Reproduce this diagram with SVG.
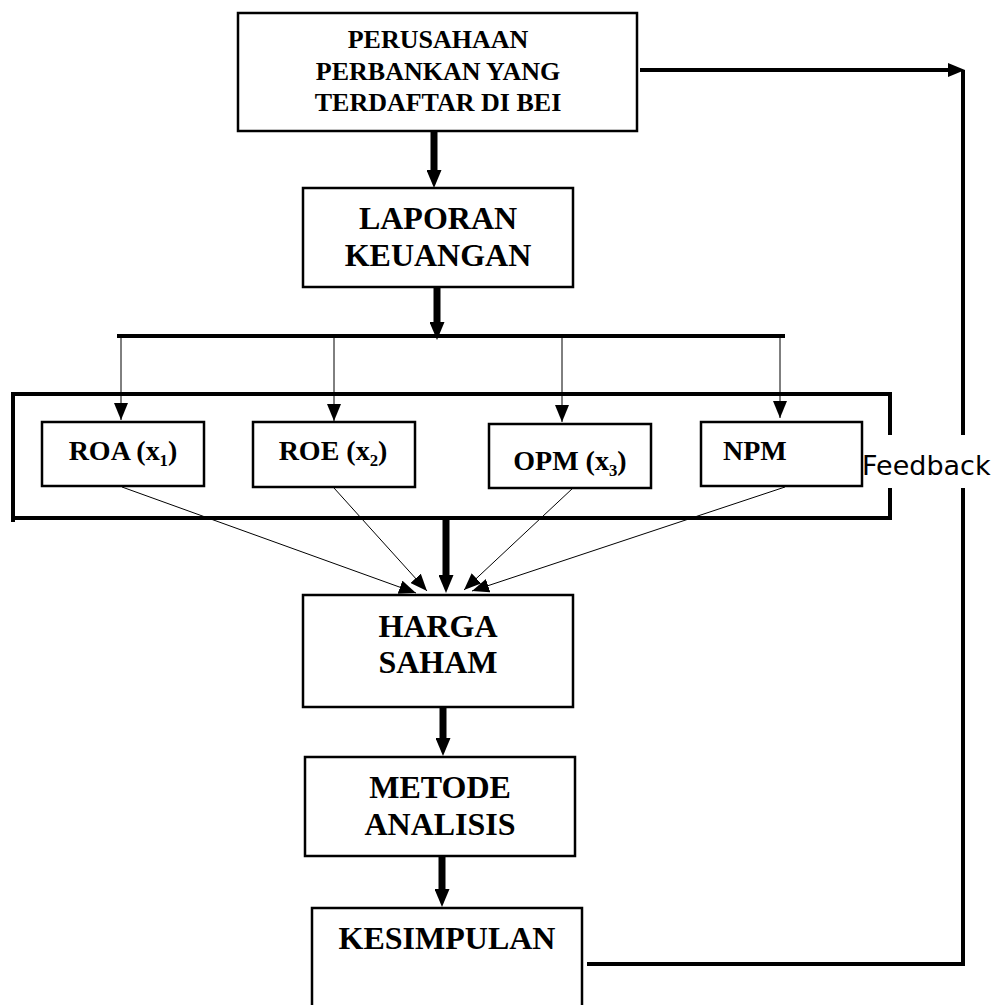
<svg xmlns="http://www.w3.org/2000/svg" width="1005" height="1005" viewBox="0 0 1005 1005">
<style>
.box{fill:#fff;stroke:#000;stroke-width:2.5}
.t{font-family:"Liberation Serif","Times New Roman",serif;font-weight:bold;fill:#000}
.thick{stroke:#000;stroke-width:7;fill:none}
.thin{stroke:#000;stroke-width:1;fill:none}
.frame{stroke:#000;stroke-width:4;fill:none}
</style>
<defs>
<marker id="ah" markerUnits="userSpaceOnUse" markerWidth="18" markerHeight="15" refX="0" refY="7.5" orient="auto">
<path d="M0,0 L18,7.5 L0,15 z" fill="#000"/>
</marker>
<marker id="at" markerUnits="userSpaceOnUse" markerWidth="17" markerHeight="14" refX="17" refY="7" orient="auto">
<path d="M0,0 L17,7 L0,14 z" fill="#000"/>
</marker>
<marker id="af" markerUnits="userSpaceOnUse" markerWidth="17" markerHeight="14" refX="0" refY="7" orient="auto">
<path d="M0,0 L17,7 L0,14 z" fill="#000"/>
</marker>
</defs>
<rect width="1005" height="1005" fill="#fff"/>

<g id="frame">
<path class="frame" d="M13,392 V522"/>
<path class="frame" d="M13,394 H890 V435"/>
<path class="frame" d="M13,518 H890 V488"/>
</g>

<g id="connectors">
<line class="thick" x1="434" y1="131" x2="434" y2="170" marker-end="url(#ah)"/>
<line class="thick" x1="437" y1="287" x2="437" y2="322" marker-end="url(#ah)"/>
<line x1="117" y1="336" x2="785" y2="336" stroke="#000" stroke-width="4"/>
<line class="thin" x1="121" y1="336" x2="121" y2="420" marker-end="url(#at)"/>
<line class="thin" x1="334" y1="336" x2="334" y2="421" marker-end="url(#at)"/>
<line class="thin" x1="562" y1="336" x2="562" y2="422" marker-end="url(#at)"/>
<line class="thin" x1="780" y1="336" x2="780" y2="418" marker-end="url(#at)"/>
<line class="thin" x1="122" y1="487" x2="416" y2="593" marker-end="url(#at)"/>
<line class="thin" x1="334" y1="488" x2="427" y2="591" marker-end="url(#at)"/>
<line class="thin" x1="573" y1="488" x2="464" y2="590" marker-end="url(#at)"/>
<line class="thin" x1="785" y1="487" x2="472" y2="591" marker-end="url(#at)"/>
<line class="thick" x1="446" y1="518" x2="446" y2="575" marker-end="url(#ah)"/>
<line class="thick" x1="443" y1="707" x2="443" y2="738" marker-end="url(#ah)"/>
<line class="thick" x1="442" y1="856" x2="442" y2="889" marker-end="url(#ah)"/>
<path d="M587,964 H963 V488" stroke="#000" stroke-width="4" fill="none"/>
<path d="M963,435 V70" stroke="#000" stroke-width="4" fill="none"/>
<line x1="640" y1="70" x2="948" y2="70" stroke="#000" stroke-width="4" marker-end="url(#af)"/>
<text x="862" y="475" font-family="DejaVu Sans, sans-serif" font-size="27" fill="#000">Feedback</text>
</g>

<g id="perusahaan">
<rect class="box" x="238" y="13" width="399" height="118"/>
<text class="t" font-size="26" text-anchor="middle" x="438" y="48">PERUSAHAAN</text>
<text class="t" font-size="26" text-anchor="middle" x="438" y="80">PERBANKAN YANG</text>
<text class="t" font-size="26" text-anchor="middle" x="438" y="111">TERDAFTAR DI BEI</text>
</g>

<g id="laporan">
<rect class="box" x="303" y="188" width="270" height="99"/>
<text class="t" font-size="32" text-anchor="middle" x="438" y="229">LAPORAN</text>
<text class="t" font-size="32" text-anchor="middle" x="438" y="266">KEUANGAN</text>
</g>

<g id="roa">
<rect class="box" x="42" y="422" width="162" height="64"/>
<text class="t" font-size="28" text-anchor="middle" x="123" y="460">ROA (x₁)</text>
</g>

<g id="roe">
<rect class="box" x="253" y="422" width="162" height="65"/>
<text class="t" font-size="28" text-anchor="middle" x="333" y="460">ROE (x₂)</text>
</g>

<g id="opm">
<rect class="box" x="489" y="424" width="162" height="64"/>
<text class="t" font-size="28" text-anchor="middle" x="570" y="470">OPM (x₃)</text>
</g>

<g id="npm">
<rect class="box" x="701" y="422" width="161" height="64"/>
<text class="t" font-size="28" x="723" y="460">NPM</text>
</g>

<g id="harga">
<rect class="box" x="303" y="595" width="270" height="112"/>
<text class="t" font-size="32" text-anchor="middle" x="438" y="637">HARGA</text>
<text class="t" font-size="32" text-anchor="middle" x="438" y="673">SAHAM</text>
</g>

<g id="metode">
<rect class="box" x="305" y="757" width="270" height="99"/>
<text class="t" font-size="32" text-anchor="middle" x="440" y="798">METODE</text>
<text class="t" font-size="32" text-anchor="middle" x="440" y="835">ANALISIS</text>
</g>

<g id="kesimpulan">
<rect class="box" x="312" y="908" width="270" height="120"/>
<text class="t" font-size="32" text-anchor="middle" x="447" y="949">KESIMPULAN</text>
</g>
</svg>
